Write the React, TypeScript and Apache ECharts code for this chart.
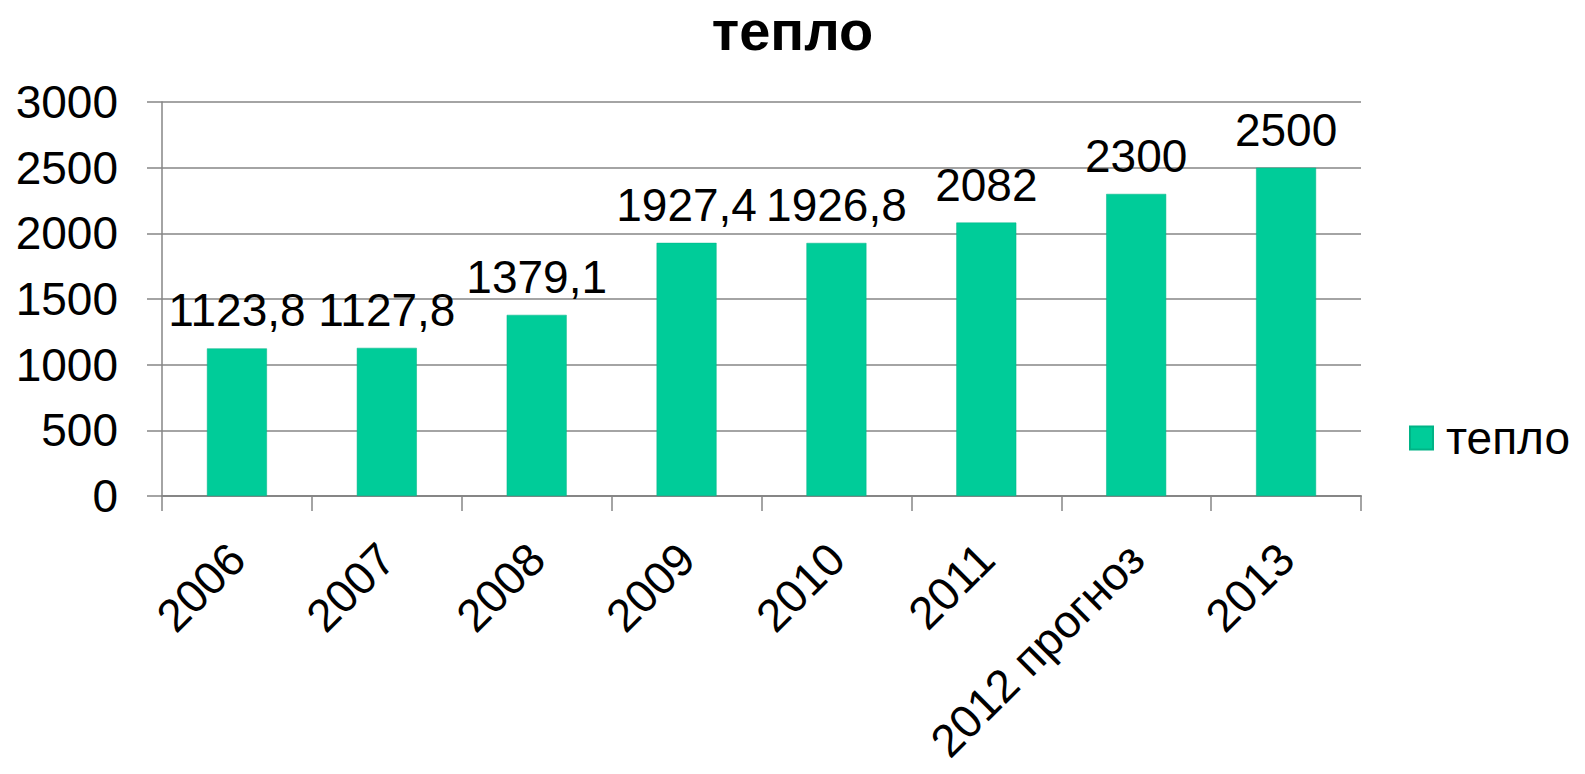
import React, { useEffect, useRef } from "react";
import * as echarts from "echarts";

const categories = ["2006", "2007", "2008", "2009", "2010", "2011", "2012 прогноз", "2013"];
const values = [1123.8, 1127.8, 1379.1, 1927.4, 1926.8, 2082, 2300, 2500];
const seriesName = "тепло";
const titleText = "тепло";

const FONT = "'Liberation Sans', Arial, sans-serif";

export default function App() {
  const ref = useRef<HTMLDivElement>(null);
  useEffect(() => {
    document.body.style.margin = "0";
    document.body.style.overflow = "hidden";
    if (!ref.current) return;
    const chart = echarts.init(ref.current, null, { renderer: "svg" });
    chart.setOption({
      animation: false,
      backgroundColor: "#ffffff",
      title: {
        text: titleText,
        left: "center",
        top: -3,
        textStyle: { fontFamily: FONT, fontSize: 56, fontWeight: "bold", color: "#000" },
      },
      legend: {
        data: [seriesName],
        orient: "vertical",
        left: 1404,
        top: 410,
        itemWidth: 23,
        itemHeight: 23,
        itemGap: 10,
        icon: "rect",
        textStyle: { fontFamily: FONT, fontSize: 46, color: "#000", padding: [0, 0, 0, 8] },
      },
      grid: {
        left: 162,
        right: 224,
        top: 102,
        bottom: 278,
        containLabel: false,
        outerBoundsMode: "none",
      },
      xAxis: {
        type: "category",
        data: categories,
        axisLine: { show: true, lineStyle: { color: "#868686", width: 2 } },
        axisTick: { show: true, length: 15, lineStyle: { color: "#868686", width: 1.5 } },
        axisLabel: {
          rotate: 45,
          interval: 0,
          margin: 55,
          fontFamily: FONT,
          fontSize: 46,
          color: "#000",
        },
        splitLine: { show: false },
      },
      yAxis: {
        type: "value",
        min: 0,
        max: 3000,
        interval: 500,
        axisLine: { show: true, lineStyle: { color: "#868686", width: 1.5 } },
        axisTick: { show: true, length: 15, lineStyle: { color: "#868686", width: 1.5 } },
        axisLabel: {
          margin: 44,
          fontFamily: FONT,
          fontSize: 46,
          color: "#000",
          formatter: (v: number) => String(v),
        },
        splitLine: { show: true, lineStyle: { color: "#868686", width: 1.5 } },
      },
      series: [
        {
          name: seriesName,
          type: "bar",
          data: values,
          barWidth: "40%",
          itemStyle: { color: "#00CC99", borderColor: "#00B386", borderWidth: 0.5 },
          label: {
            show: true,
            position: "top",
            distance: 15,
            fontFamily: FONT,
            fontSize: 46,
            color: "#000",
            formatter: (p: any) => String(p.value).replace(".", ","),
          },
        },
      ],
    });
    return () => chart.dispose();
  }, []);
  return (
    <div
      ref={ref}
      style={{ position: "fixed", left: 0, top: 0, width: 1585, height: 774 }}
    />
  );
}
